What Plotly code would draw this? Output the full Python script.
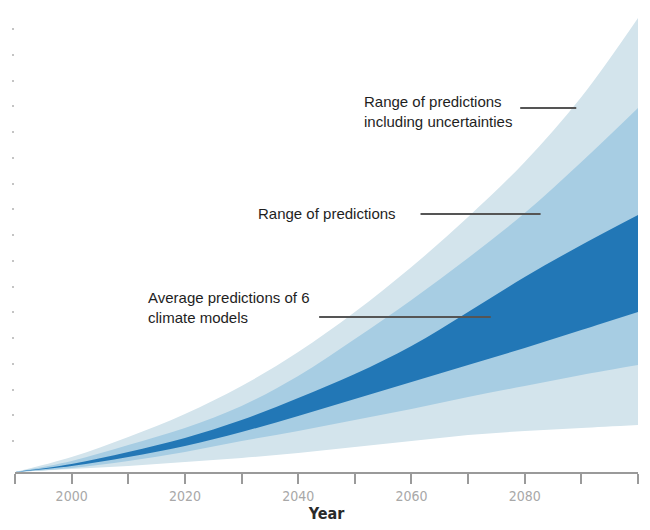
import plotly.graph_objects as go

years = [1990, 2000, 2010, 2020, 2030, 2040, 2050, 2060, 2070, 2080, 2090, 2100]

# Range of predictions including uncertainties (outer band)
outer_upper = [0.00, 0.15, 0.35, 0.58, 0.86, 1.20, 1.60, 2.05, 2.55, 3.10, 3.75, 4.54]
outer_lower = [0.00, 0.03, 0.06, 0.10, 0.14, 0.19, 0.25, 0.31, 0.37, 0.41, 0.44, 0.47]

# Range of predictions (middle band)
range_upper = [0.00, 0.11, 0.27, 0.44, 0.66, 0.96, 1.33, 1.72, 2.14, 2.59, 3.10, 3.64]
range_lower = [0.00, 0.04, 0.11, 0.20, 0.31, 0.41, 0.52, 0.63, 0.75, 0.86, 0.97, 1.07]

# Average predictions of 6 climate models (inner band)
avg_upper = [0.00, 0.08, 0.20, 0.34, 0.52, 0.74, 0.98, 1.26, 1.60, 1.95, 2.27, 2.57]
avg_lower = [0.00, 0.06, 0.15, 0.26, 0.40, 0.56, 0.73, 0.90, 1.07, 1.24, 1.42, 1.60]

tick_years = [1990, 2000, 2010, 2020, 2030, 2040, 2050, 2060, 2070, 2080, 2090, 2100]
tick_labels = ["", "2000", "", "2020", "", "2040", "", "2060", "", "2080", "", ""]
y_dots = [0.31 + 0.2575 * i for i in range(17)]

labels = [
    "Range of predictions<br>including uncertainties",
    "Range of predictions",
    "Average predictions of 6<br>climate models",
]

LIGHT = "rgb(211,228,236)"
MID = "rgb(167,205,227)"
DARK = "rgb(34,119,182)"

fig = go.Figure()

def band(lower, upper, color):
    fig.add_trace(go.Scatter(x=years, y=lower, mode="lines", line=dict(width=0, shape="spline", color=color),
                             hoverinfo="skip", showlegend=False))
    fig.add_trace(go.Scatter(x=years, y=upper, mode="lines", line=dict(width=0, shape="spline", color=color),
                             fill="tonexty", fillcolor=color, hoverinfo="skip", showlegend=False))

band(outer_lower, outer_upper, LIGHT)
band(range_lower, range_upper, MID)
band(avg_lower, avg_upper, DARK)

# Annotation texts and leader lines
ann = [
    dict(text=labels[0], x=2051.3, y=3.61, lx=(2079.2, 2089.1), ly=3.64),
    dict(text=labels[1], x=2032.5, y=2.59, lx=(2061.6, 2082.8), ly=2.58),
    dict(text=labels[2], x=2013.2, y=1.65, lx=(2043.7, 2074.0), ly=1.55),
]
for a in ann:
    fig.add_annotation(x=a["x"], y=a["y"], text=a["text"], showarrow=False,
                       xanchor="left", yanchor="middle", align="left",
                       font=dict(family="Liberation Sans, Arial", size=15, color="#1e1e1e"))
    fig.add_shape(type="line", x0=a["lx"][0], x1=a["lx"][1], y0=a["ly"], y1=a["ly"],
                  line=dict(color="#555555", width=2))

fig.update_layout(
    width=650, height=530,
    margin=dict(l=5, r=20, t=10, b=66),
    paper_bgcolor="white", plot_bgcolor="white",
    showlegend=False,
    xaxis=dict(
        range=[1990, 2100], tickvals=tick_years, ticktext=tick_labels,
        showgrid=False, zeroline=False,
        showline=True, linecolor="#9a9a9a", linewidth=1.5,
        ticks="outside", ticklen=10, tickwidth=1.5, tickcolor="#9a9a9a",
        tickfont=dict(family="DejaVu Sans Condensed, DejaVu Sans", size=14, color="#a8a8a8"),
        title=dict(text="<b>Year</b>", standoff=3,
                   font=dict(family="DejaVu Sans Condensed, DejaVu Sans", size=16, color="#2a2a2a")),
    ),
    yaxis=dict(
        range=[0, 4.54], tickvals=y_dots, showticklabels=False,
        showgrid=False, zeroline=False, showline=False,
        ticks="outside", ticklen=2, tickwidth=2, tickcolor="#c4c4c4",
    ),
)

fig.write_html("out.html")
